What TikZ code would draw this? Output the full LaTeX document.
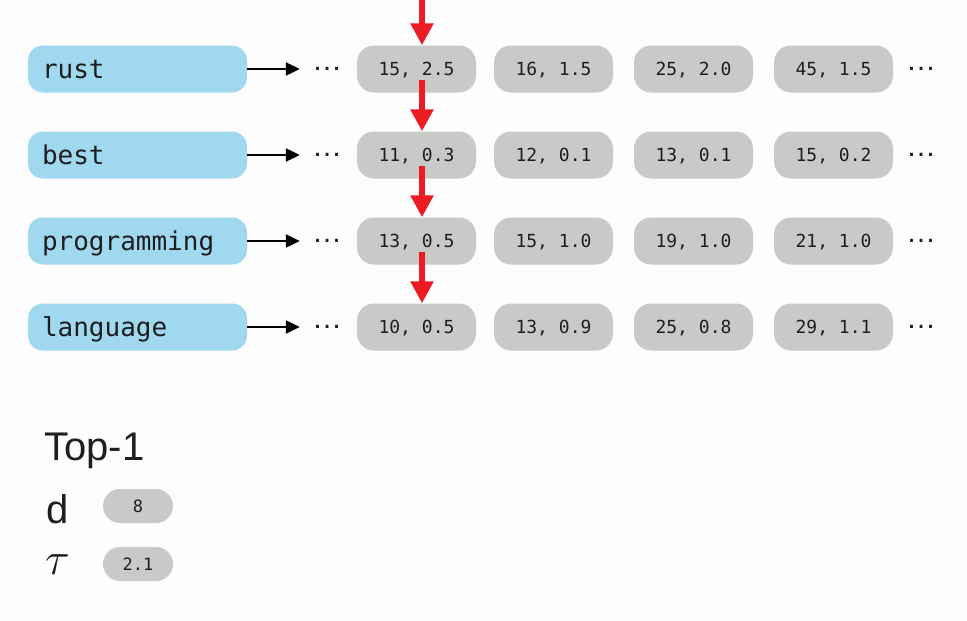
\documentclass[tikz,border=0pt]{standalone}
\usepackage{fix-cm}
\usepackage{fontspec}
\setsansfont{Liberation Sans}
\setmonofont{DejaVu Sans Mono}
\usetikzlibrary{arrows.meta}

\definecolor{termblue}{RGB}{160,216,240}
\definecolor{postgray}{RGB}{200,202,199}
\definecolor{hitred}{RGB}{237,28,36}
\definecolor{inkdark}{RGB}{30,30,30}
\definecolor{paper}{RGB}{253,253,253}

\begin{document}
\begin{tikzpicture}[x=1pt, y=1pt,
    % Styles des termes (bleu)
    term/.style={rectangle, rounded corners=15pt, fill=termblue, text=inkdark,
                 text width=191pt, inner xsep=14pt, inner ysep=0pt, align=left,
                 minimum height=47pt, text height=23pt, text depth=5pt,
                 font=\fontsize{26}{26}\selectfont\ttfamily},
    % Style des postings (gris)
    posting/.style={rectangle, rounded corners=17pt, fill=postgray, text=inkdark,
                    minimum width=119pt, minimum height=47pt, inner sep=0pt,
                    text height=16pt, text depth=4pt,
                    font=\fontsize{18}{18}\selectfont\ttfamily},
    smallpill/.style={rectangle, rounded corners=17pt, fill=postgray, text=inkdark,
                      minimum width=70pt, minimum height=34pt, inner sep=0pt,
                      text height=16pt, text depth=4pt,
                      font=\fontsize{17}{17}\selectfont\ttfamily},
    dots/.style={inner xsep=0pt, inner ysep=0pt, text=inkdark,
                 font=\fontsize{30}{30}\selectfont\sffamily},
    % Style des fleches
    link/.style={-{Triangle[length=14pt,width=13pt]}, line width=2.2pt, draw=black,
                 shorten >=12pt},
    hit/.style={-{Triangle[length=22pt,width=22pt]}, line width=5.5pt, draw=hitred},
    % Style des labels
    biglabel/.style={anchor=base west, inner sep=0pt, text=inkdark,
                     font=\fontsize{40}{40}\selectfont\sffamily}
]

\useasboundingbox (0,0) rectangle (967,-621);
\fill[paper] (0,0) rectangle (967,-621);

% ==========================================
% LIGNE 1: rust
% ==========================================
\node[term] (rust) at (137.5,-69) {rust};
\node[dots] (rustpre) at (327,-69) {…};
\node[posting] (rust1) at (416.5,-69) {15, 2.5};
\node[posting] (rust2) at (553.5,-69) {16, 1.5};
\node[posting] (rust3) at (693.5,-69) {25, 2.0};
\node[posting] (rust4) at (833.5,-69) {45, 1.5};
\node[dots] (rustpost) at (921,-69) {…};
\draw[link] (rust) -- (rustpre);

% ==========================================
% LIGNE 2: best
% ==========================================
\node[term] (best) at (137.5,-155) {best};
\node[dots] (bestpre) at (327,-155) {…};
\node[posting] (best1) at (416.5,-155) {11, 0.3};
\node[posting] (best2) at (553.5,-155) {12, 0.1};
\node[posting] (best3) at (693.5,-155) {13, 0.1};
\node[posting] (best4) at (833.5,-155) {15, 0.2};
\node[dots] (bestpost) at (921,-155) {…};
\draw[link] (best) -- (bestpre);

% ==========================================
% LIGNE 3: programming
% ==========================================
\node[term] (prog) at (137.5,-241) {programming};
\node[dots] (progpre) at (327,-241) {…};
\node[posting] (prog1) at (416.5,-241) {13, 0.5};
\node[posting] (prog2) at (553.5,-241) {15, 1.0};
\node[posting] (prog3) at (693.5,-241) {19, 1.0};
\node[posting] (prog4) at (833.5,-241) {21, 1.0};
\node[dots] (progpost) at (921,-241) {…};
\draw[link] (prog) -- (progpre);

% ==========================================
% LIGNE 4: language
% ==========================================
\node[term] (lang) at (137.5,-327) {language};
\node[dots] (langpre) at (327,-327) {…};
\node[posting] (lang1) at (416.5,-327) {10, 0.5};
\node[posting] (lang2) at (553.5,-327) {13, 0.9};
\node[posting] (lang3) at (693.5,-327) {25, 0.8};
\node[posting] (lang4) at (833.5,-327) {29, 1.1};
\node[dots] (langpost) at (921,-327) {…};
\draw[link] (lang) -- (langpre);

% ==========================================
% CURSEUR (fleches rouges)
% ==========================================
\coordinate (entry) at (422,2);
\draw[hit] (entry) -- (entry |- rust1.north);
\draw[hit] ([yshift=13pt]entry |- rust1.south) -- (entry |- best1.north);
\draw[hit] ([yshift=13pt]entry |- best1.south) -- (entry |- prog1.north);
\draw[hit] ([yshift=13pt]entry |- prog1.south) -- (entry |- lang1.north);

% ==========================================
% RESULTAT Top-1
% ==========================================
\node[biglabel] (topk) at (44,-460) {Top-1};
\node[biglabel] (dlabel) at (46,-523) {d};
\node[biglabel, font=\fontsize{46}{46}\selectfont] (taulabel) at (45,-574) {$\tau$};
\node[smallpill] (dval) at (138,-506) {8};
\node[smallpill] (tauval) at (138,-564) {2.1};

\end{tikzpicture}
\end{document}
